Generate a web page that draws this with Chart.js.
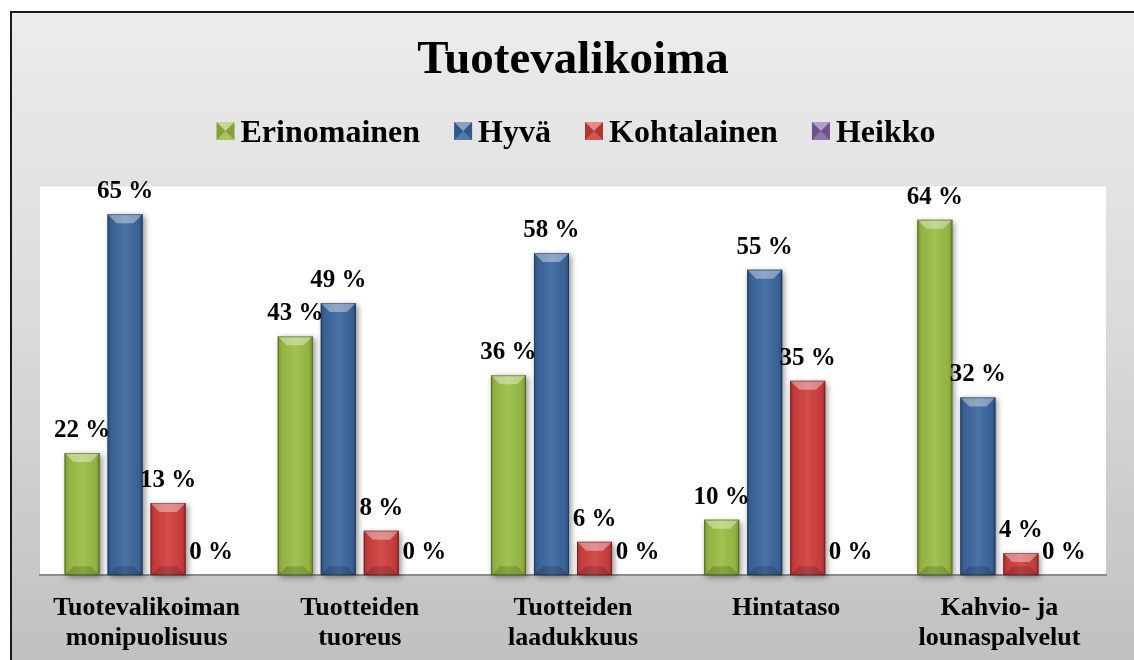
<!DOCTYPE html>
<html>
<head>
<meta charset="utf-8">
<script src="https://cdn.jsdelivr.net/npm/chart.js@4.4.1/dist/chart.umd.min.js"></script>
<style>
  body { margin: 0; background: #ffffff; }
  #wrap { width: 1134px; height: 660px; }
</style>
</head>
<body>
<div id="wrap"><canvas id="chart" width="1134" height="660"></canvas></div>
<script>
// data
const categories = [
  ['Tuotevalikoiman', 'monipuolisuus'],
  ['Tuotteiden', 'tuoreus'],
  ['Tuotteiden', 'laadukkuus'],
  ['Hintataso'],
  ['Kahvio- ja', 'lounaspalvelut']
];
const seriesNames = ['Erinomainen', 'Hyvä', 'Kohtalainen', 'Heikko'];
const erinomainen = [22, 43, 36, 10, 64];
const hyva        = [65, 49, 58, 55, 32];
const kohtalainen = [13, 8, 6, 35, 4];
const heikko      = [0, 0, 0, 0, 0];
const seriesColors = ['#9bbd45', '#3c679e', '#d03f3f', '#7f62a2'];

const FONT = '"Liberation Serif", "Times New Roman", serif';

//background, frame and white plot area
const backPlugin = {
  id: 'back',
  beforeDraw(chart) {
    const ctx = chart.ctx;
    const a = chart.chartArea;
    ctx.save();
    const g = ctx.createLinearGradient(0, 11, 0, 660);
    g.addColorStop(0, '#ececec');
    g.addColorStop(0.45, '#dcdcdc');
    g.addColorStop(1, '#c0c0c0');
    ctx.fillStyle = g;
    ctx.fillRect(10, 11, chart.width, chart.height);
    ctx.strokeStyle = '#1a1a1a';
    ctx.lineWidth = 2;
    ctx.beginPath();
    ctx.moveTo(11, chart.height);
    ctx.lineTo(11, 12);
    ctx.lineTo(chart.width, 12);
    ctx.stroke();
    ctx.fillStyle = '#ffffff';
    ctx.fillRect(a.left, a.top, a.right - a.left, a.bottom - a.top);
    ctx.restore();
  }
};

// shadow under bars, then bevel on top of them
function eachBar(chart, fn) {
  chart.data.datasets.forEach((ds, i) => {
    const meta = chart.getDatasetMeta(i);
    meta.data.forEach((bar, j) => {
      if (ds.data[j] > 0) fn(bar, i, j);
    });
  });
}

const bevelPlugin = {
  id: 'bevel',
  beforeDatasetsDraw(chart) {
    const ctx = chart.ctx;
    ctx.save();
    ctx.shadowColor = 'rgba(0,0,0,0.45)';
    ctx.shadowBlur = 6;
    ctx.shadowOffsetX = 2;
    ctx.shadowOffsetY = 2;
    eachBar(chart, (bar, i) => {
      ctx.fillStyle = seriesColors[i];
      ctx.fillRect(bar.x - bar.width / 2, bar.y, bar.width, bar.base - bar.y);
    });
    ctx.restore();
  },
  afterDatasetsDraw(chart) {
    const ctx = chart.ctx;
    ctx.save();
    eachBar(chart, (bar) => {
      const l = bar.x - bar.width / 2, r = bar.x + bar.width / 2;
      const t = bar.y, b = bar.base;
      const bv = Math.min(9, (b - t) / 2);
      const hg = ctx.createLinearGradient(l, 0, r, 0);
      hg.addColorStop(0, 'rgba(0,0,0,0.22)');
      hg.addColorStop(0.12, 'rgba(0,0,0,0.05)');
      hg.addColorStop(0.5, 'rgba(255,255,255,0.08)');
      hg.addColorStop(0.88, 'rgba(0,0,0,0.05)');
      hg.addColorStop(1, 'rgba(0,0,0,0.25)');
      ctx.fillStyle = hg;
      ctx.fillRect(l, t, r - l, b - t);
      // top bevel
      ctx.fillStyle = 'rgba(255,255,255,0.38)';
      ctx.beginPath();
      ctx.moveTo(l, t); ctx.lineTo(r, t);
      ctx.lineTo(r - bv, t + bv); ctx.lineTo(l + bv, t + bv);
      ctx.closePath(); ctx.fill();
      // bottom bevel
      ctx.fillStyle = 'rgba(0,0,0,0.16)';
      ctx.beginPath();
      ctx.moveTo(l, b); ctx.lineTo(r, b);
      ctx.lineTo(r - bv, b - bv); ctx.lineTo(l + bv, b - bv);
      ctx.closePath(); ctx.fill();
      ctx.strokeStyle = 'rgba(0,0,0,0.3)';
      ctx.lineWidth = 1;
      ctx.strokeRect(l + 0.5, t + 0.5, r - l - 1, b - t - 1);
    });
    ctx.restore();

    // value labels
    ctx.save();
    ctx.font = 'bold 25px ' + FONT;
    ctx.fillStyle = '#000000';
    ctx.textAlign = 'center';
    ctx.textBaseline = 'alphabetic';
    chart.data.datasets.forEach((ds, i) => {
      chart.getDatasetMeta(i).data.forEach((bar, j) => {
        ctx.fillText(ds.data[j] + ' %', bar.x, bar.y - 16);
      });
    });
    ctx.restore();
  }
};

// legend with bevelled boxes, narrow spacing like the original
const legendPlugin = {
  id: 'bevelLegend',
  afterDraw(chart) {
    const ctx = chart.ctx;
    const a = chart.chartArea;
    ctx.save();
    ctx.font = 'bold 32px ' + FONT;
    const box = 18, gapText = 6, gapItem = 34;
    const widths = seriesNames.map(n => ctx.measureText(n).width);
    let total = gapItem * (seriesNames.length - 1);
    widths.forEach(w => total += box + gapText + w);
    let x = (a.left + a.right) / 2 + 3 - total / 2;
    const base = 142, by = 122;
    seriesNames.forEach((name, i) => {
      const c = seriesColors[i];
      ctx.fillStyle = c;
      ctx.fillRect(x, by, box, box);
      const cx = x + box / 2, cy = by + box / 2;
      ctx.fillStyle = 'rgba(255,255,255,0.4)';
      ctx.beginPath(); ctx.moveTo(x, by); ctx.lineTo(x + box, by); ctx.lineTo(cx, cy); ctx.closePath(); ctx.fill();
      ctx.fillStyle = 'rgba(255,255,255,0.12)';
      ctx.beginPath(); ctx.moveTo(x, by + box); ctx.lineTo(x + box, by + box); ctx.lineTo(cx, cy); ctx.closePath(); ctx.fill();
      ctx.fillStyle = 'rgba(0,0,0,0.15)';
      ctx.beginPath(); ctx.moveTo(x, by); ctx.lineTo(x, by + box); ctx.lineTo(cx, cy); ctx.closePath(); ctx.fill();
      ctx.beginPath(); ctx.moveTo(x + box, by); ctx.lineTo(x + box, by + box); ctx.lineTo(cx, cy); ctx.closePath(); ctx.fill();
      x += box + gapText;
      ctx.fillStyle = '#000000';
      ctx.textBaseline = 'alphabetic';
      ctx.fillText(name, x, base);
      x += widths[i] + gapItem;
    });
    ctx.restore();
  }
};

const config = {
  type: 'bar',
  data: {
    labels: categories,
    datasets: [
      { label: seriesNames[0], data: erinomainen, backgroundColor: seriesColors[0] },
      { label: seriesNames[1], data: hyva, backgroundColor: seriesColors[1] },
      { label: seriesNames[2], data: kohtalainen, backgroundColor: seriesColors[2] },
      { label: seriesNames[3], data: heikko, backgroundColor: seriesColors[3] }
    ]
  },
  options: {
    responsive: false,
    animation: false,
    layout: { padding: { left: 40, right: 28, top: 0, bottom: -11 } },
    datasets: {
      bar: { categoryPercentage: 0.807, barPercentage: 0.814 }
    },
    scales: {
      x: {
        grid: { display: false, drawTicks: false },
        border: { display: true, color: '#8c8c8c', width: 2 },
        ticks: {
          color: '#000000',
          padding: 18,
          maxRotation: 0,
          font: { family: FONT, size: 26, weight: 'bold', lineHeight: 1.15 }
        }
      },
      y: {
        display: false,
        min: 0,
        max: 70
      }
    },
    plugins: {
      legend: { display: false },
      tooltip: { enabled: false },
      title: {
        display: true,
        text: 'Tuotevalikoima',
        color: '#000000',
        padding: { top: 33, bottom: 97 },
        font: { family: FONT, size: 47, weight: 'bold', lineHeight: 1.2 }
      }
    }
  },
  plugins: [backPlugin, bevelPlugin, legendPlugin]
};

const myChart = new Chart(document.getElementById('chart'), config);
</script>
</body>
</html>
